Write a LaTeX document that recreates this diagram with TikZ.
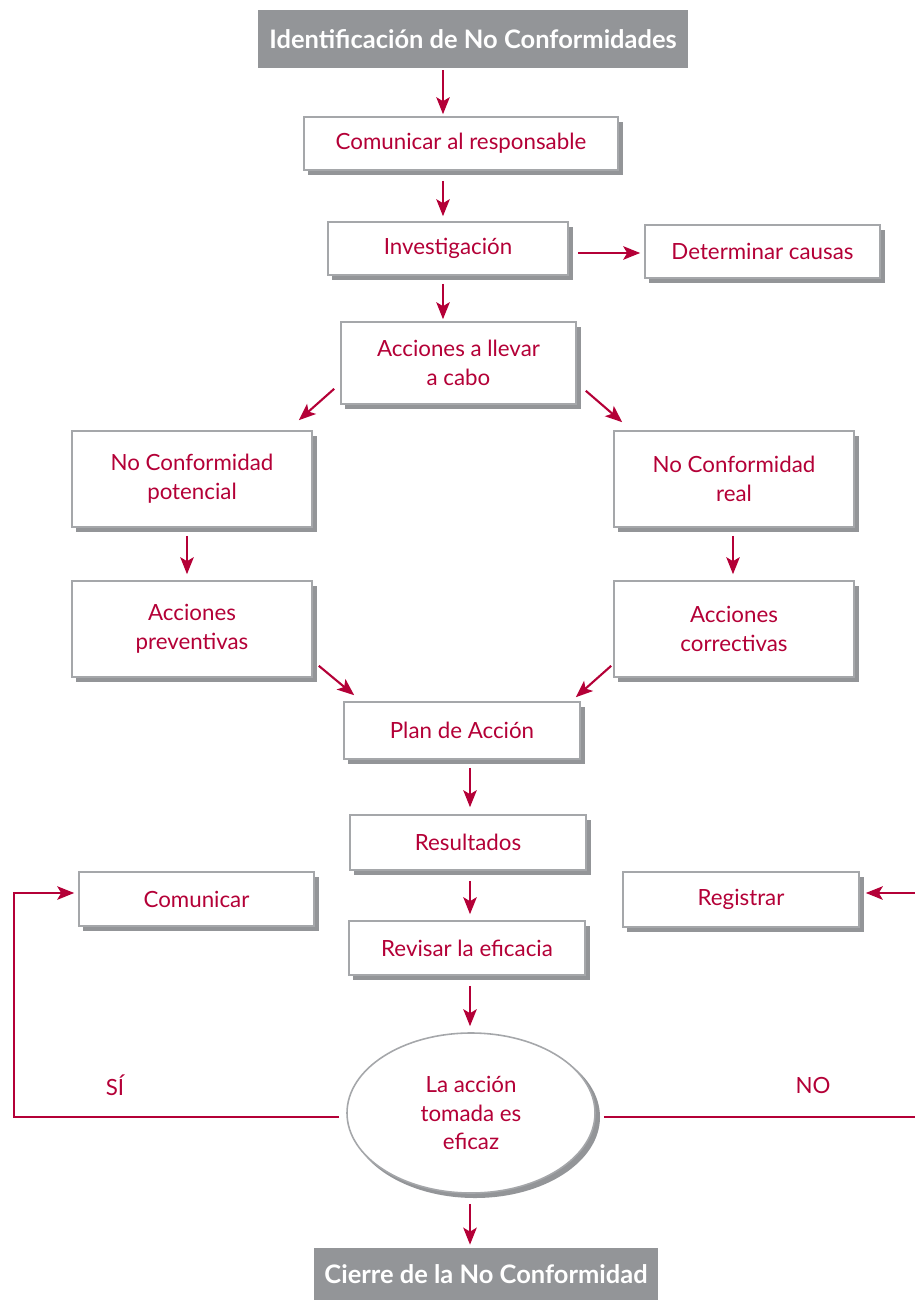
\documentclass[tikz,border=0pt]{standalone}
\usepackage{fontspec}
\setmainfont{Lato}
\usetikzlibrary{arrows.meta,shapes.geometric,calc}
\definecolor{crim}{RGB}{180,0,55}
\definecolor{shgray}{RGB}{147,149,152}
\definecolor{bdgray}{RGB}{165,167,170}
\newcommand\mybox[6]{%
  \fill[shgray] (#2+4,#3+5) rectangle (#4+5,#5+5);
  \node[boxst, minimum width={(#4-#2)*0.02cm}, minimum height={(#5-#3)*0.02cm}] (#1) at ({(#2+#4)/2},{(#3+#5)/2}) {#6};}
\begin{document}
\begin{tikzpicture}[x=0.02cm,y=-0.02cm,
  boxst/.style={draw=bdgray, line width=0.9pt, fill=white, text=crim, align=center, inner sep=0pt,
    font=\fontsize{12.7}{16.4}\selectfont},
  titlest/.style={fill=shgray, text=white, inner sep=0pt, font=\bfseries\fontsize{14.5}{16}\selectfont},
  arr/.style={draw=crim, line width=1.2pt, -{Stealth[length=0.34cm, width=0.27cm, inset=0.08cm]}},
  lbl/.style={text=crim, font=\fontsize{12.7}{14}\selectfont, inner sep=0pt}]
\useasboundingbox (0,0) rectangle (915,1300);

\node[titlest, minimum width={430*0.02cm}, minimum height={58*0.02cm}] (top) at (473,39) {Identificación de No Conformidades};
\node[titlest, minimum width={344*0.02cm}, minimum height={52*0.02cm}] (bot) at (486,1274) {Cierre de la No Conformidad};

\mybox{c1}{304}{117}{618}{170}{Comunicar al responsable}
\mybox{inv}{328}{222}{568}{275}{Investigación}
\mybox{det}{645}{225}{880}{278}{Determinar causas}
\mybox{acc}{341}{322}{576}{404}{Acciones a llevar\\a cabo}
\mybox{ncp}{72}{431}{312}{527}{No Conformidad\\potencial}
\mybox{ncr}{614}{431}{854}{527}{No Conformidad\\real}
\mybox{prev}{72}{581}{312}{677}{Acciones\\preventivas}
\mybox{corr}{614}{581}{854}{677}{Acciones\\correctivas}
\mybox{plan}{344}{702}{580}{759}{Plan de Acción}
\mybox{res}{350}{815}{586}{870}{Resultados}
\mybox{rev}{349}{921}{585}{975}{Revisar la eficacia}
\mybox{com}{79}{872}{314}{926}{Comunicar}
\mybox{reg}{623}{872}{859}{927}{Registrar}

% decision ellipse
\fill[shgray] (475,1117) ellipse [x radius=125*0.02cm, y radius=81*0.02cm];
\node[ellipse, draw=bdgray, line width=0.9pt, fill=white, text=crim, align=center, inner sep=0pt,
  minimum width={248*0.02cm}, minimum height={160*0.02cm},
  font=\fontsize{12.7}{16.4}\selectfont] (dec) at (471,1113) {La acción\\tomada es\\eficaz};

% arrows
\draw[arr] ($(top.south)+(-30,2)$) -- ($(c1.north)+(-18,-2)$);
\draw[arr] ($(c1.south)+(-18,10)$) -- ($(inv.north)+(-5,-5)$);
\draw[arr] ($(inv.east)+(9,4.5)$) -- ($(det.west)+(-4,1.5)$);
\draw[arr] ($(inv.south)+(-5,8)$) -- ($(acc.north)+(-15.5,-2)$);
\draw[arr] ($(acc.south west)+(-6,-16)$) -- ($(ncp.north east)+(-14,-10)$);
\draw[arr] ($(acc.south east)+(9,-14)$) -- ($(ncr.north west)+(9,-8)$);
\draw[arr] ($(ncp.south)+(-5,8)$) -- ($(prev.north)+(-5,-6)$);
\draw[arr] ($(ncr.south)+(-1,8)$) -- ($(corr.north)+(-1,-6)$);
\draw[arr] ($(prev.south east)+(6,-12)$) -- ($(plan.north west)+(11,-6)$);
\draw[arr] ($(corr.south west)+(-2,-12)$) -- ($(plan.north east)+(-5,-4)$);
\draw[arr] ($(plan.south)+(8,8)$) -- ($(res.north)+(2,-7)$);
\draw[arr] ($(res.south)+(2,10)$) -- ($(rev.north)+(3,-6)$);
\draw[arr] ($(rev.south)+(3,10)$) -- ($(dec.north)+(-1,-6)$);
\draw[arr] ($(dec.south)+(-1,10)$) -- ($(bot.north)+(-16,-3)$);

% loops
\coordinate (lcorner) at (14,1117);
\coordinate (rcorner) at (922,1117);
\draw[arr] ($(dec.west)+(-7,4)$) -- (lcorner) |- ($(com.west)+(-4,-6)$);
\draw[arr] ($(dec.east)+(8,4)$) -- (rcorner) |- ($(reg.east)+(6,-6.5)$);

\node[lbl] (si) at (115,1085) {SÍ};
\node[lbl] (no) at (813,1085) {NO};
\end{tikzpicture}
\end{document}
